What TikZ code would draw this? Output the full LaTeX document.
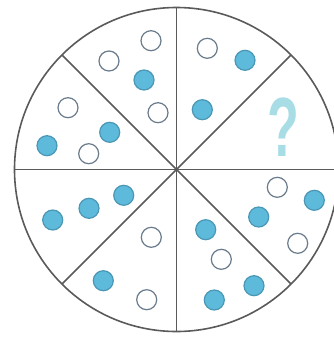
\documentclass[tikz,border=0pt]{standalone}
\usepackage{fontspec}
\usetikzlibrary{calc}
\newfontfamily\qfont{Liberation Sans}
\definecolor{ink}{HTML}{5A5A5A}
\definecolor{dotfill}{HTML}{5DBADB}
\definecolor{dotedge}{HTML}{4A97B5}
\definecolor{ringedge}{HTML}{6A7C8C}
\definecolor{qfill}{HTML}{A8DDE6}

\begin{document}
\begin{tikzpicture}[
  x=1pt, y=-1pt,
  spoke/.style={draw=ink, line width=1.6pt},
  full/.style={circle, inner sep=0pt, minimum size=20pt, fill=dotfill,
               draw=dotedge, line width=1.2pt},
  empty/.style={circle, inner sep=0pt, minimum size=20pt, fill=white,
                draw=ringedge, line width=1.2pt},
  quest/.style={font=\qfont\bfseries\fontsize{84}{84}\selectfont, text=qfill,
                draw=none, inner sep=0pt, xscale=.62}
]
\useasboundingbox (0,0) rectangle (334,338);

% rueda
\coordinate (c) at (176.5,169.5);
\draw[spoke] (c) circle[radius=162];
\foreach \a in {0,45,...,315}{
  \coordinate (rim\a) at ($(c)+(\a:162)$);
  \draw[spoke] (c) -- (rim\a);
}

% sector arriba-izquierda
\node[empty] (d1) at (151,40.7) {};
\node[empty] (d2) at (109,61) {};
\node[full]  (d3) at (144,80) {};
\node[empty] (d4) at (158,112.7) {};
% sector arriba-derecha
\node[empty] (d5) at (207.3,48.3) {};
\node[full]  (d6) at (245,60.3) {};
\node[full]  (d7) at (202.3,109.7) {};
% sector derecha-arriba
\node[quest] (q) at (283.5,127) {?};
% sector izquierda-arriba
\node[empty] (d8) at (68,107.7) {};
\node[full]  (d9) at (109.7,132.3) {};
\node[full]  (d10) at (47,145.7) {};
\node[empty] (d11) at (88.7,153.7) {};
% sector izquierda-abajo
\node[full]  (d12) at (123.7,195.3) {};
\node[full]  (d13) at (89,208.3) {};
\node[full]  (d14) at (52.7,220) {};
% sector abajo-izquierda
\node[empty] (d15) at (151.3,237.3) {};
\node[full]  (d16) at (103.3,280.7) {};
\node[empty] (d17) at (146.7,299.7) {};
% sector abajo-derecha
\node[full]  (d18) at (205.7,229.7) {};
\node[empty] (d19) at (221.3,259.3) {};
\node[full]  (d20) at (254,285.7) {};
\node[full]  (d21) at (214.3,300) {};
% sector derecha-abajo
\node[empty] (d22) at (277.3,187.3) {};
\node[full]  (d23) at (314.3,200.3) {};
\node[full]  (d24) at (258.7,217) {};
\node[empty] (d25) at (297.7,243.3) {};

\end{tikzpicture}
\end{document}
